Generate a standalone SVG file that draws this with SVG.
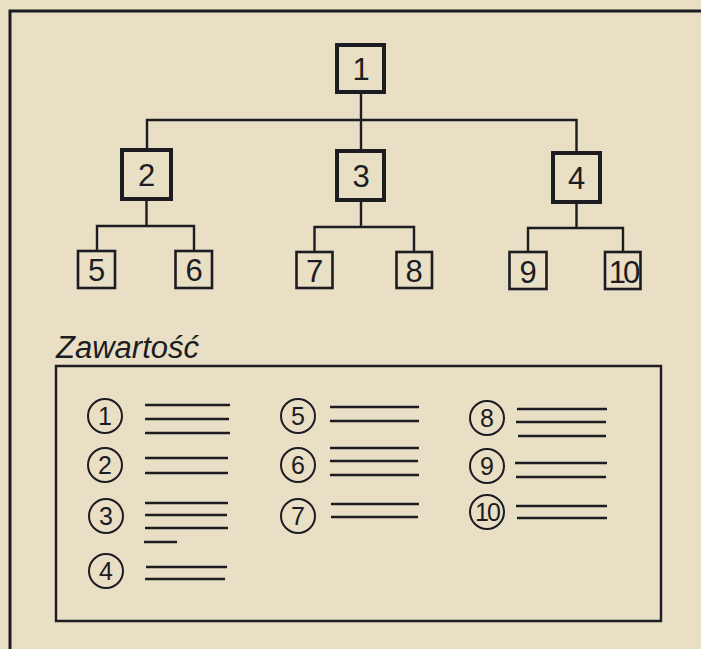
<svg xmlns="http://www.w3.org/2000/svg" width="701" height="649" viewBox="0 0 701 649">
<style>
.bg{fill:#e8dfc5}
.ink{stroke:#1c1c22;fill:none}
.big{stroke:#1c1c22;stroke-width:4;fill:none}
.small{stroke:#1c1c22;stroke-width:2.6;fill:none}
.conn{stroke:#1c1c22;stroke-width:2.4;fill:none}
.num{font-family:"Liberation Sans",Arial,sans-serif;font-size:31px;fill:#1c1c22;text-anchor:middle}
.cnum{font-family:"Liberation Sans",Arial,sans-serif;font-size:25px;fill:#1c1c22;text-anchor:middle}
.circ{stroke:#1c1c22;stroke-width:2;fill:none}
.ln{stroke:#1c1c22;stroke-width:2.4}
</style>
<rect class="bg" x="0" y="0" width="701" height="649"/>
<path class="ink" stroke-width="3" d="M10 649 V11 H701"/>

<g id="connectors">
<path class="conn" d="M361 93 V120 M147 149 V120 H576.5 V151 M361 120 V149"/>
<path class="conn" d="M146.5 200 V226 M97 250 V226 H194 V251"/>
<path class="conn" d="M361 201 V227 M314.5 252 V227 H414 V252"/>
<path class="conn" d="M576.5 203 V228 M528 252 V228 H623 V252"/>
</g>

<g id="n1"><rect class="big" x="337" y="45" width="47" height="47"/><text class="num" x="361" y="80">1</text></g>
<g id="n2"><rect class="big" x="122" y="150" width="49" height="49"/><text class="num" x="146.5" y="186">2</text></g>
<g id="n3"><rect class="big" x="337" y="151" width="47" height="49"/><text class="num" x="361" y="187">3</text></g>
<g id="n4"><rect class="big" x="553" y="153" width="47" height="49"/><text class="num" x="576.5" y="189">4</text></g>
<g id="n5"><rect class="small" x="78" y="251" width="37" height="37"/><text class="num" x="96.5" y="281">5</text></g>
<g id="n6"><rect class="small" x="175.5" y="251" width="36.5" height="37"/><text class="num" x="194" y="281">6</text></g>
<g id="n7"><rect class="small" x="296.5" y="252" width="36" height="36"/><text class="num" x="314.5" y="282">7</text></g>
<g id="n8"><rect class="small" x="396.5" y="252" width="35.5" height="36"/><text class="num" x="414" y="282">8</text></g>
<g id="n9"><rect class="small" x="509.5" y="252" width="37" height="37"/><text class="num" x="528" y="283">9</text></g>
<g id="n10"><rect class="small" x="605" y="252" width="35.5" height="37"/><text class="num" x="623" y="283" letter-spacing="-3">10</text></g>

<g id="contents">
<text x="56" y="358" font-family="'Liberation Sans',Arial,sans-serif" font-style="italic" font-size="31" fill="#1c1c22">Zawartość</text>
<path class="ink" stroke-width="2.4" d="M56 366 H661 V621 H56 Z"/>

<circle class="circ" cx="105" cy="416" r="17"/><text class="cnum" x="105" y="425">1</text>
<path class="ln" d="M145 405 H230 M145 419 H229 M145 433 H230"/>
<circle class="circ" cx="105" cy="465" r="17"/><text class="cnum" x="105" y="474">2</text>
<path class="ln" d="M145 458 H228 M145 473 H228"/>
<circle class="circ" cx="106" cy="516" r="17"/><text class="cnum" x="106" y="525">3</text>
<path class="ln" d="M145 503 H228 M145 515 H227 M145 528 H228 M144 542 H177"/>
<circle class="circ" cx="106" cy="571" r="17"/><text class="cnum" x="106" y="580">4</text>
<path class="ln" d="M146 567 H227 M145 579 H225"/>

<circle class="circ" cx="298" cy="416" r="17"/><text class="cnum" x="298" y="425">5</text>
<path class="ln" d="M330 407 H419 M330 421 H419"/>
<circle class="circ" cx="298" cy="465" r="17"/><text class="cnum" x="298" y="474">6</text>
<path class="ln" d="M330 448 H419 M330 461 H418 M330 475 H419"/>
<circle class="circ" cx="298" cy="516" r="17"/><text class="cnum" x="298" y="525">7</text>
<path class="ln" d="M331 504 H419 M331 517 H418"/>

<circle class="circ" cx="487" cy="418" r="17"/><text class="cnum" x="487" y="427">8</text>
<path class="ln" d="M517 409 H607 M516 422 H606 M518 436 H606"/>
<circle class="circ" cx="487" cy="466" r="17"/><text class="cnum" x="487" y="475">9</text>
<path class="ln" d="M515 463 H607 M516 477 H606"/>
<circle class="circ" cx="487" cy="512" r="17"/><text class="cnum" x="487" y="521" letter-spacing="-2">10</text>
<path class="ln" d="M516 506 H607 M517 518 H607"/>
</g>
</svg>
